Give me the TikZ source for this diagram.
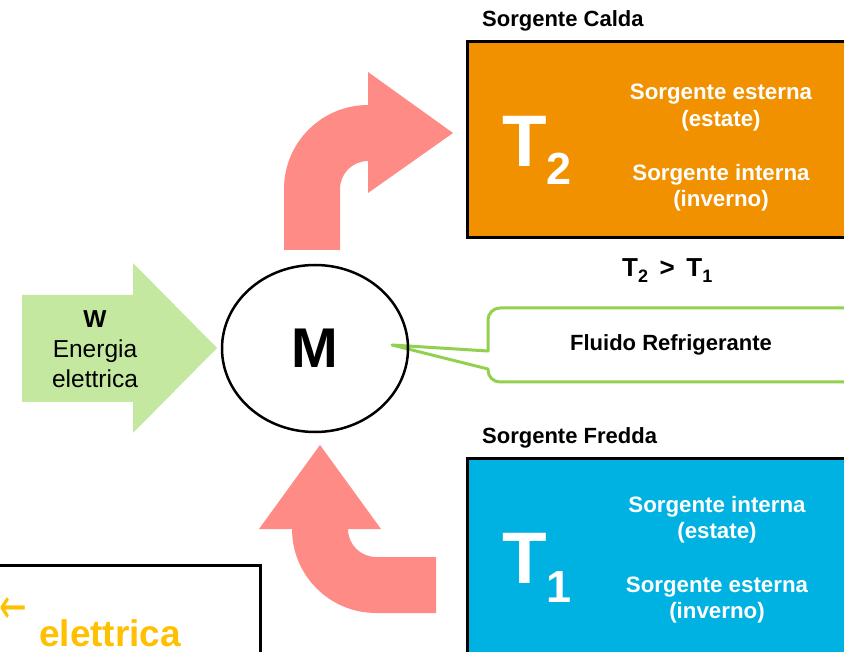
\documentclass[tikz,border=0pt]{standalone}
\usepackage{fontspec}
\usetikzlibrary{shapes.geometric}
\setmainfont{Liberation Sans}
\newfontfamily\symfont{DejaVu Sans}
\definecolor{hotc}{RGB}{241,145,0}
\definecolor{coldc}{RGB}{0,178,226}
\definecolor{pinkc}{RGB}{255,139,134}
\definecolor{lgreen}{RGB}{197,232,160}
\definecolor{cgreen}{RGB}{146,208,80}
\definecolor{goldc}{RGB}{255,192,0}
\newcommand{\fsz}[1]{\fontsize{#1}{#1}\selectfont}
\begin{document}
\begin{tikzpicture}[x=1pt,y=-1pt,
  srcbox/.style={draw=black,line width=3,inner sep=0},
  lbl/.style={font=\bfseries\fsz{22},anchor=base west,inner sep=0},
  wtxt/.style={font=\bfseries\fsz{22.3},text=white,align=center,inner sep=0},
  bigT/.style={font=\bfseries\fsz{73},text=white,anchor=base west,inner sep=0},
  subT/.style={font=\bfseries\fsz{45},text=white,anchor=base west,inner sep=0},
  flow/.style={fill=pinkc,draw=none}]
\useasboundingbox (0,0) rectangle (844,652);
\fill[white] (0,0) rectangle (844,652);

% hot source
\node[lbl] (lcalda) at (482,27) {Sorgente Calda};
\draw[srcbox,fill=hotc] (467,42) rectangle (860,238);
\node[bigT] (T2) at (502,167) {T};
\node[subT] (s2) at (546,185) {2};
\node[wtxt,anchor=base] (h1) at (721,100) {Sorgente esterna};
\node[wtxt,anchor=base] (h2) at (721,127) {(estate)};
\node[wtxt,anchor=base] (h3) at (721,181) {Sorgente interna};
\node[wtxt,anchor=base] (h4) at (721,207) {(inverno)};

% relation
\node[font=\bfseries\fsz{26},anchor=base west,inner sep=0] (rel) at (622,277)
  {T\raisebox{-6pt}{\fsz{18}2} \,>\, T\raisebox{-6pt}{\fsz{18}1}};

% cold source
\node[lbl] (lfredda) at (482,443) {Sorgente Fredda};
\draw[srcbox,fill=coldc] (467,458) rectangle (860,700);
\node[bigT] (T1) at (502,583) {T};
\node[subT] (s1) at (546,602) {1};
\node[wtxt,anchor=base] (c1) at (717,512) {Sorgente interna};
\node[wtxt,anchor=base] (c2) at (717,538) {(estate)};
\node[wtxt,anchor=base] (c3) at (717,592) {Sorgente esterna};
\node[wtxt,anchor=base] (c4) at (717,618) {(inverno)};

% work input arrow
\fill[lgreen] (22,295) -- (133,295) -- (133,263) -- (217,348) -- (133,433) -- (133,402) -- (22,402) -- cycle;
\node[font=\bfseries\fsz{24.5},anchor=base,inner sep=0] (W) at (95,328) {W};
\node[font=\fsz{24.5},anchor=base,inner sep=0] (en) at (95,358) {Energia};
\node[font=\fsz{24.5},anchor=base,inner sep=0] (el) at (95,388) {elettrica};

% heat flows
\path[flow] (284,250) -- (284,189) arc[start angle=180,end angle=270,radius=84]
  -- (368,72) -- (453,133) -- (368,193) -- (368,161)
  arc[start angle=270,end angle=180,radius=28] -- (340,250) -- cycle;
\path[flow] (436,557) -- (376,557) arc[start angle=90,end angle=180,radius=28]
  -- (381,529) -- (320,445) -- (259,529) -- (292,529)
  arc[start angle=180,end angle=90,radius=84] -- (436,613) -- cycle;

% callout
\draw[cgreen,line width=3,fill=white,line join=round]
  (392,345) -- (488,351) [rounded corners=12] -- (488,308) -- (870,308) -- (870,382) -- (488,382) [sharp corners] -- (488,369) -- cycle;
\node[font=\bfseries\fsz{22},inner sep=0] (fluid) at (671,345) {Fluido Refrigerante};

% machine
\node[draw=black,line width=2.5,ellipse,minimum width=186,minimum height=167,inner sep=0,
  font=\bfseries\fsz{56}] (M) at (315,348.5) {M};

% bottom-left box
\draw[black,line width=3] (-10,565) rectangle (260,720);
\node[font=\symfont\fsz{33},text=goldc,anchor=west,inner sep=0] (arr) at (-1,610) {\scalebox{1}[1.5]{←}};
\node[font=\bfseries\fsz{37},text=goldc,anchor=base west,inner sep=0] (elb) at (39,646) {elettrica};
\end{tikzpicture}
\end{document}
